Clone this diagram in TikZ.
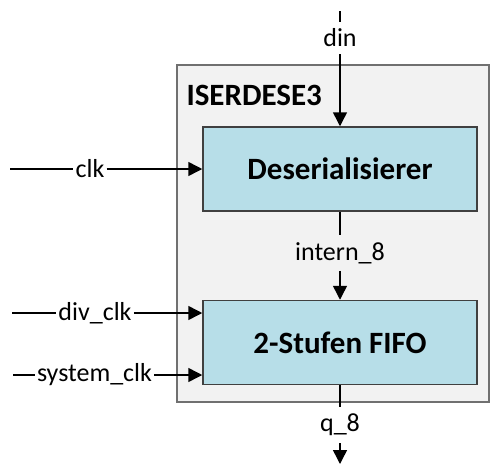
\documentclass[tikz,border=0pt]{standalone}
\usepackage{fontspec}
\setmainfont{Carlito}
\usetikzlibrary{arrows.meta}

\definecolor{blockblue}{RGB}{183,222,232}
\definecolor{shellgray}{RGB}{242,242,242}
\definecolor{edgegray}{RGB}{64,64,64}

\tikzset{
  block/.style={draw=edgegray, line width=1.5, fill=blockblue, minimum width=274, minimum height=84, font=\fontsize{31}{33}\selectfont\bfseries},
  sig/.style={inner xsep=2, inner ysep=7, font=\fontsize{26}{28}\selectfont},
  wire/.style={line width=1.5},
  feed/.style={wire, -{Triangle[length=14,width=14]}}
}

\begin{document}
\begin{tikzpicture}[x=1pt,y=1pt,yscale=-1,xscale=1]
\useasboundingbox (0,0) rectangle (490,464);

%Shape: Rectangle ISERDESE3 shell
\draw [draw=edgegray!75, line width=1.2, fill=shellgray] (177,65) rectangle (489,402);
\node [anchor=west, font=\fontsize{31}{33}\selectfont\bfseries] (title) at (183,95) {ISERDESE3};

%Blocks
\node [block] (deser) at (340,169) {Deserialisierer};
\node [block] (fifo) at (340,342.5) {2-Stufen FIFO};

%Signal labels
\node [sig] (din) at (340,38) {din};
\node [sig] (intern) at (340,253) {intern\_8};
\node [sig] (q) at (340,425) {q\_8};
\node [sig] (clk) at (90,169) {clk};
\node [sig] (divclk) at (95,313) {div\_clk};
\node [sig] (sysclk) at (94.5,375) {system\_clk};

%Free wire ends
\coordinate (dinend) at (340,11);
\coordinate (qend) at (340,464);
\coordinate (clkend) at (10,169);
\coordinate (divclkend) at (12,313);
\coordinate (sysclkend) at (13,375);

%Vertical data path
\draw [wire] (dinend) -- (din);
\draw [feed] (din) -- (deser.north);
\draw [wire] (deser.south) -- (intern);
\draw [feed] (intern) -- (fifo.north);
\draw [wire] (fifo.south) -- (q);
\draw [feed] (q) -- (qend);

%Clock inputs
\draw [wire] (clkend) -- (clk);
\draw [feed] (clk) -- (deser.west);
\draw [wire] (divclkend) -- (divclk);
\draw [feed] (divclk) -- (divclk -| fifo.west);
\draw [wire] (sysclkend) -- (sysclk);
\draw [feed] (sysclk) -- (sysclk -| fifo.west);

\end{tikzpicture}
\end{document}
